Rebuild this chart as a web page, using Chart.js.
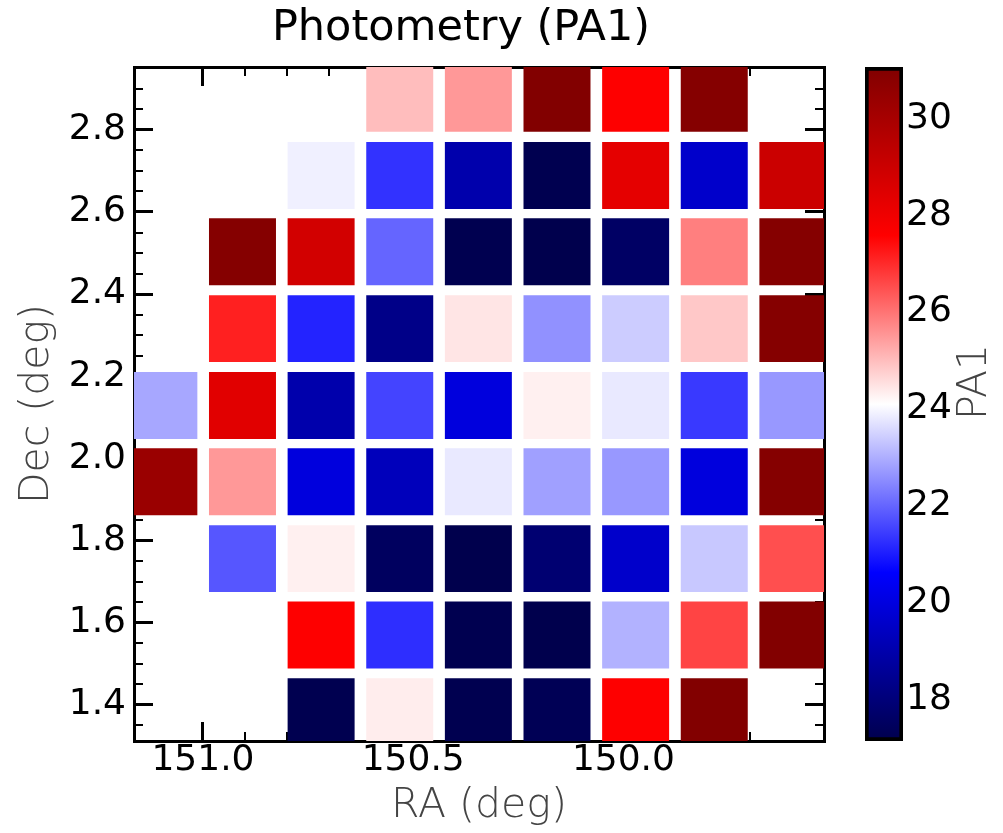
<!DOCTYPE html>
<html><head><meta charset="utf-8">
<script src="https://cdn.jsdelivr.net/npm/chart.js@4.4.1/dist/chart.umd.min.js"></script>
<style>
html,body{margin:0;padding:0;background:#fff;}
#wrap{position:relative;width:1003px;height:833px;background:#fff;}
canvas{position:absolute;left:0;top:0;}
</style></head><body>
<div id="wrap"><canvas id="main" width="1003" height="833"></canvas><canvas id="cbar" width="1003" height="833"></canvas></div>
<script>
// ---- data ----
const raCenters  = [151.093, 150.906, 150.719, 150.532, 150.345, 150.158, 149.971, 149.784, 149.597];
const decCenters = [2.877, 2.689, 2.503, 2.316, 2.129, 1.943, 1.756, 1.570, 1.383];
const pa1Row1 = [null, null, null, 25.0, 25.5, 31.0, 27.6, 30.9, null];
const pa1Row2 = [null, null, 23.9, 21.3, 19.0, 17.2, 28.3, 19.6, 29.0];
const pa1Row3 = [null, 30.9, 28.8, 22.0, 17.2, 17.15, 17.6, 25.85, 30.9];
const pa1Row4 = [null, 27.15, 21.1, 18.3, 24.45, 22.6, 23.4, 24.85, 30.9];
const pa1Row5 = [22.9, 28.4, 19.0, 21.55, 19.95, 24.3, 23.8, 21.4, 22.7];
const pa1Row6 = [30.35, 25.5, 19.95, 19.3, 23.8, 22.8, 22.7, 19.95, 30.9];
const pa1Row7 = [null, 21.8, 24.3, 17.5, 17.15, 17.85, 19.6, 23.35, 26.5];
const pa1Row8 = [null, null, 27.6, 21.25, 17.2, 17.15, 23.05, 26.65, 31.0];
const pa1Row9 = [null, null, 17.2, 24.35, 17.2, 17.3, 27.6, 31.0, null];
const pa1Rows = [pa1Row1, pa1Row2, pa1Row3, pa1Row4, pa1Row5, pa1Row6, pa1Row7, pa1Row8, pa1Row9];
const raTicks  = [151.0, 150.5, 150.0];
const decTicks = [1.4, 1.6, 1.8, 2.0, 2.2, 2.4, 2.6, 2.8];
const cbTicks  = [18, 20, 22, 24, 26, 28, 30];

// ---- ranges / styling ----
const raMin = 149.523, raMax = 151.164;
const decMin = 1.312, decMax = 2.953;
const cbMin = 17.14, cbMax = 31.06;
const cellFrac = 0.852;      // cell width as fraction of column pitch
const cellHalfDec = 0.0815;  // half cell height in Dec

const seismicStops = [[0,0,0.3],[0,0,1],[1,1,1],[1,0,0],[0.5,0,0]];
function rgbOf(c){ return `rgb(${Math.round(c[0]*255)},${Math.round(c[1]*255)},${Math.round(c[2]*255)})`; }
function seismic(v){
  let t = (v - cbMin) / (cbMax - cbMin);
  t = Math.max(0, Math.min(1, t));
  const p = t * 4, i = Math.min(3, Math.floor(p)), f = p - i;
  const a = seismicStops[i], b = seismicStops[i+1];
  return rgbOf(a.map((x,k) => x + (b[k]-x)*f));
}

const cells = [];
pa1Rows.forEach((row, r) => row.forEach((v, c) => {
  if (v !== null) cells.push({x: raCenters[c], y: [decCenters[r]-cellHalfDec, decCenters[r]+cellHalfDec], v});
}));

const tickFont = {family: 'DejaVu Sans', size: 36};
const labFont = {family: 'DejaVu Sans', size: 41, weight: '200'};
const titleFont = {family: 'DejaVu Sans', size: 43, weight: 'normal', lineHeight: 1.2};
const titlePad = {top: 3, bottom: 0};
const titleH = titleFont.size * titleFont.lineHeight + titlePad.top + titlePad.bottom;

function majorGrid(len){ return {drawOnChartArea:false, drawTicks:true, tickLength:len, lineWidth:3, tickWidth:3, tickColor:'#000', color:'#000', offset:false}; }
function minorGrid(len){ return {drawOnChartArea:false, drawTicks:true, tickLength:len, lineWidth:2, tickWidth:2, tickColor:'#000', color:'#000', offset:false}; }
const frame = {display:true, width:3, color:'#000'};

function xAxis(extra){ return Object.assign({type:'linear', axis:'x', min:raMin, max:raMax, reverse:true, offset:false}, extra); }
function yAxis(extra){ return Object.assign({type:'linear', axis:'y', min:decMin, max:decMax, beginAtZero:false}, extra); }

new Chart(document.getElementById('main'), {
  type: 'bar',
  data: { datasets: [{
    data: cells,
    backgroundColor: ctx => ctx.raw ? seismic(ctx.raw.v) : '#fff',
    borderWidth: 0,
    barPercentage: cellFrac,
    categoryPercentage: 1,
    clip: 0
  }]},
  options: {
    responsive: false, animation: false, events: [],
    layout: { padding: {left: 0, right: 81, top: 0, bottom: 0} },
    plugins: {
      legend: {display: false}, tooltip: {enabled: false},
      title: { display: true, text: 'Photometry (PA1)', color: '#000', font: titleFont, padding: titlePad }
    },
    scales: {
      x: xAxis({ position:'bottom', weight:1,
        afterBuildTicks: s => { s.ticks = raTicks.map(v => ({value: v})); },
        ticks: {color:'#000', font: tickFont, padding: 17, maxRotation: 0, autoSkip: false, callback: v => Number(v).toFixed(1)},
        grid: majorGrid(-19), border: frame,
        title: {display: true, text: 'RA (deg)', color: '#444', font: labFont, padding: {top: 0, bottom: 2}},
        afterFit: s => { s.height = 92; } }),
      xMinB: xAxis({ position:'bottom', weight:0, ticks:{display:false, stepSize:0.1}, grid: minorGrid(-9), border:{display:false}, afterFit: s => { s.height = 0; } }),
      x2: xAxis({ position:'top', weight:1,
        afterBuildTicks: s => { s.ticks = raTicks.map(v => ({value: v})); },
        ticks:{display:false}, grid: majorGrid(-19), border: frame, afterFit: s => { s.height = 67 - titleH; } }),
      xMinT: xAxis({ position:'top', weight:0, ticks:{display:false, stepSize:0.1}, grid: minorGrid(-9), border:{display:false}, afterFit: s => { s.height = 0; } }),
      y: yAxis({ position:'left', weight:1,
        afterBuildTicks: s => { s.ticks = decTicks.map(v => ({value: v})); },
        ticks: {color:'#000', font: tickFont, padding: 27, autoSkip: false, callback: v => Number(v).toFixed(1)},
        grid: majorGrid(-19), border: frame,
        title: {display: true, text: 'Dec (deg)', color: '#444', font: labFont, padding: {top: 13, bottom: 0}},
        afterFit: s => { s.width = 134; } }),
      yMinL: yAxis({ position:'left', weight:0, ticks:{display:false, stepSize:0.05}, grid: minorGrid(-9), border:{display:false}, afterFit: s => { s.width = 0; } }),
      y2: yAxis({ position:'right', weight:1,
        afterBuildTicks: s => { s.ticks = decTicks.map(v => ({value: v})); },
        ticks:{display:false}, grid: majorGrid(-19), border: frame, afterFit: s => { s.width = 98; } }),
      yMinR: yAxis({ position:'right', weight:0, ticks:{display:false, stepSize:0.05}, grid: minorGrid(-9), border:{display:false}, afterFit: s => { s.width = 0; } })
    }
  }
});

const pa1Label = {
  id: 'pa1Label',
  afterDraw(chart) {
    const c = chart.ctx;
    c.save();
    c.translate(975, 382);
    c.rotate(-Math.PI / 2);
    c.font = `${labFont.weight} ${labFont.size}px "${labFont.family}"`;
    c.fillStyle = '#444';
    c.textAlign = 'center';
    c.textBaseline = 'middle';
    c.fillText('PA1', 0, 0);
    c.restore();
  }
};

new Chart(document.getElementById('cbar'), {
  type: 'bar',
  data: { labels: ['PA1'], datasets: [{
    data: [[cbMin, cbMax]],
    backgroundColor: ctx => {
      const ch = ctx.chart, ys = ch.scales.y;
      if (!ch.chartArea || !ys) return '#fff';
      const g = ch.ctx.createLinearGradient(0, ys.getPixelForValue(cbMin), 0, ys.getPixelForValue(cbMax));
      seismicStops.forEach((s, i) => g.addColorStop(i / 4, rgbOf(s)));
      return g;
    },
    borderColor: '#000', borderWidth: 4, borderSkipped: false,
    barPercentage: 1, categoryPercentage: 1
  }]},
  options: {
    responsive: false, animation: false, events: [],
    layout: { padding: {left: 865, right: 0, top: 67, bottom: 92} },
    plugins: { legend: {display: false}, tooltip: {enabled: false} },
    scales: {
      x: { display: false },
      y: { position: 'right', min: cbMin, max: cbMax, beginAtZero: false,
        afterBuildTicks: s => { s.ticks = cbTicks.map(v => ({value: v})); },
        ticks: {color:'#000', font: tickFont, padding: 22, autoSkip: false, callback: v => String(v)},
        grid: {drawOnChartArea:false, drawTicks:true, tickLength:-19, lineWidth:3, tickWidth:3, tickColor:'#000', color:'#000'},
        border: {display: false},
        afterFit: s => { s.width = 100; } }
    }
  },
  plugins: [pa1Label]
});
</script>
</body></html>
